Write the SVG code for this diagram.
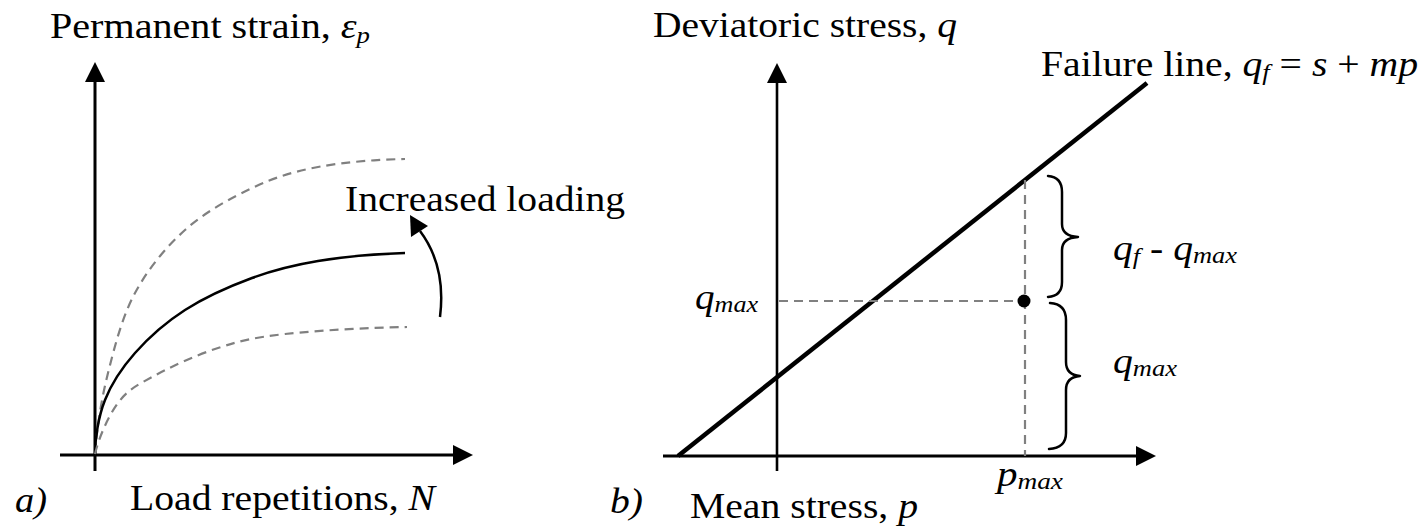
<svg xmlns="http://www.w3.org/2000/svg" width="1423" height="526" viewBox="0 0 1423 526">
<style>
.it{font-style:italic}
.sub{font-style:italic;font-size:24px}
.axis{stroke:#000;stroke-width:3;fill:none}
.dash{stroke:#808080;stroke-width:2.2;fill:none;stroke-dasharray:9 6}
.curve{stroke:#000;stroke-width:2.5;fill:none}
.brace{stroke:#000;stroke-width:2.5;fill:none;stroke-linecap:round;stroke-linejoin:round}
.head{fill:#000}
</style>
<defs>
<marker id="arr" markerUnits="userSpaceOnUse" markerWidth="20" markerHeight="22" refX="0" refY="10" orient="auto" overflow="visible">
<path d="M0,0 L20,10 L0,20 Z" fill="#000"/>
</marker>
</defs>

<g id="panel-a">
  <g id="a-axes">
    <line class="axis" x1="95" y1="471" x2="95" y2="82" marker-end="url(#arr)"/>
    <line class="axis" x1="60" y1="455" x2="453" y2="455" marker-end="url(#arr)"/>
  </g>
  <g id="a-curves">
    <path id="curve-upper" class="dash" d="M95,454 C97,427 101.3,399.8 108,373 C114.7,346.2 122.2,316.8 135,293 C147.8,269.2 165.5,247.5 185,230 C204.5,212.5 229.8,198.5 252,188 C274.2,177.5 292.7,171.8 318,167 C343.3,162.2 376,159.5 405,159"/>
    <path id="curve-mid" class="curve" d="M95,454 C95,439 98.3,416.8 105,400 C111.7,383.2 121.7,368 135,353 C148.3,338 165.5,322.5 185,310 C204.5,297.5 229.8,286.2 252,278 C274.2,269.8 292.7,265.2 318,261 C343.3,256.8 376,254 405,253"/>
    <path id="curve-lower" class="dash" d="M95,454 C99,437 108.5,415.8 118,403 C127.5,390.2 135.3,386.2 152,377 C168.7,367.8 195.8,355.2 218,348 C240.2,340.8 253.5,337.5 285,334 C316.5,330.5 370,327.5 407,327"/>
  </g>
  <g id="a-increase-arrow">
    <path class="curve" d="M440,317 C444,285 438,255 420,231"/>
    <polygon class="head" points="410,215 411,237 428,226"/>
  </g>
  <g font-family="Liberation Serif, Times New Roman, serif" font-size="36" fill="#000">
  <text id="a-ylabel" x="50" y="38" textLength="320" lengthAdjust="spacingAndGlyphs">Permanent strain, <tspan class="it">ε</tspan><tspan class="sub" dy="5">p</tspan></text>
  <text id="a-increased" x="345" y="211" textLength="280" lengthAdjust="spacingAndGlyphs">Increased loading</text>
  <text id="a-xlabel" x="130" y="510" textLength="305" lengthAdjust="spacingAndGlyphs">Load repetitions, <tspan class="it">N</tspan></text>
  <text id="a-tag" class="it" x="15" y="512" textLength="32" lengthAdjust="spacingAndGlyphs">a)</text>
  </g>
</g>

<g id="panel-b">
  <g id="b-axes">
    <line class="axis" style="stroke-width:2.6" x1="777" y1="471" x2="777" y2="83" marker-end="url(#arr)"/>
    <line class="axis" x1="663" y1="456" x2="1136" y2="456" marker-end="url(#arr)"/>
  </g>
  <g id="b-failure-line">
    <line x1="678" y1="456" x2="1147" y2="83" stroke="#000" stroke-width="4.5"/>
  </g>
  <g id="b-guides">
    <line class="dash" x1="779" y1="301" x2="1024" y2="301"/>
    <line class="dash" x1="1025" y1="180" x2="1025" y2="456"/>
  </g>
  <g id="b-point">
    <circle cx="1024" cy="301" r="6.5" fill="#000"/>
  </g>
  <g id="b-braces">
    <path class="brace" d="M1048,176 Q1062,177 1062,192 L1062,224 Q1062,236 1078,237 Q1062,238 1062,250 L1062,282 Q1062,296 1048,297"/>
    <path class="brace" d="M1050,303 Q1066,304 1066,320 L1066,362 Q1066,375 1080,376 Q1066,377 1066,390 L1066,433 Q1066,448 1049,449"/>
  </g>
  <g font-family="Liberation Serif, Times New Roman, serif" font-size="36" fill="#000">
  <text id="b-ylabel" x="653" y="37" textLength="304" lengthAdjust="spacingAndGlyphs">Deviatoric stress, <tspan class="it">q</tspan></text>
  <text id="b-failure-label" x="1041" y="76" textLength="377" lengthAdjust="spacingAndGlyphs">Failure line, <tspan class="it">q</tspan><tspan class="sub" dy="4">f</tspan><tspan dy="-4"> = </tspan><tspan class="it">s</tspan> + <tspan class="it">mp</tspan></text>
  <text id="b-qf-qmax" x="1113" y="260" textLength="124" lengthAdjust="spacingAndGlyphs"><tspan class="it">q</tspan><tspan class="sub" dy="4">f</tspan><tspan dy="-4"> - </tspan><tspan class="it">q</tspan><tspan class="sub" dy="3">max</tspan></text>
  <text id="b-qmax-right" x="1113" y="373" textLength="64" lengthAdjust="spacingAndGlyphs"><tspan class="it">q</tspan><tspan class="sub" dy="3">max</tspan></text>
  <text id="b-qmax-left" x="695" y="309" textLength="63" lengthAdjust="spacingAndGlyphs"><tspan class="it">q</tspan><tspan class="sub" dy="3">max</tspan></text>
  <text id="b-pmax" x="997" y="486" textLength="66" lengthAdjust="spacingAndGlyphs"><tspan class="it">p</tspan><tspan class="sub" dy="3">max</tspan></text>
  <text id="b-xlabel" x="690" y="518" textLength="228" lengthAdjust="spacingAndGlyphs">Mean stress, <tspan class="it">p</tspan></text>
  <text id="b-tag" class="it" x="610" y="513" textLength="33" lengthAdjust="spacingAndGlyphs">b)</text>
  </g>
</g>
</svg>
